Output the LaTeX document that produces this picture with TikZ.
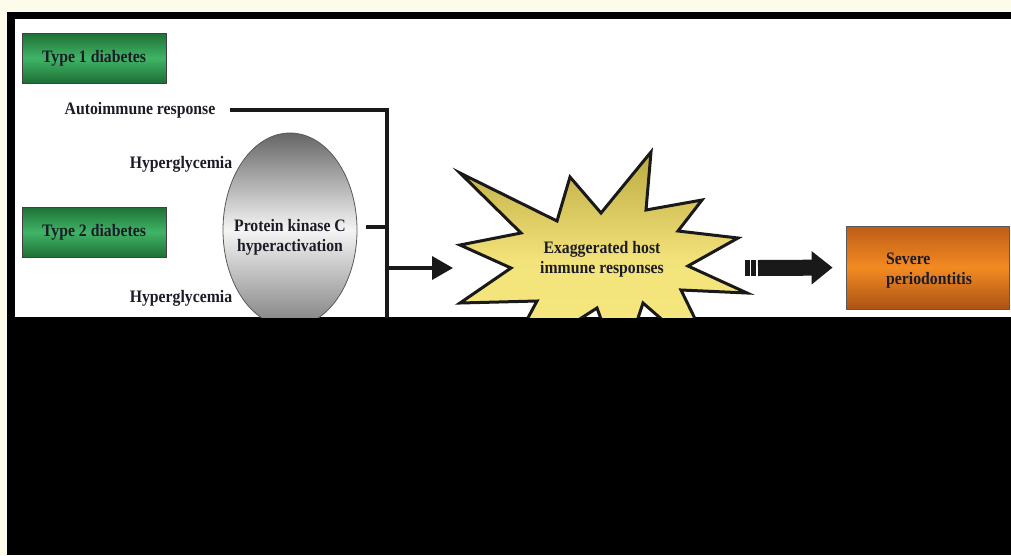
\documentclass[tikz,border=0pt]{standalone}
\usepackage{fontspec}
\setmainfont{Liberation Serif}[FakeStretch=0.9]
\usetikzlibrary{arrows.meta,shapes.geometric}
\definecolor{cream}{HTML}{FDFBEA}
\definecolor{grnDark}{HTML}{1E7036}
\definecolor{grnLight}{HTML}{40B466}
\definecolor{orgDark}{HTML}{BE5C18}
\definecolor{orgLight}{HTML}{F38A22}
\definecolor{starDark}{HTML}{BCA942}
\definecolor{starLight}{HTML}{F6E77E}
\definecolor{ink}{HTML}{1C1C28}
\tikzset{
	lbl/.style={font=\fontsize{17.5}{20}\selectfont\bfseries, text=ink, inner sep=0pt, align=center},
	greenbox/.style={lbl, draw=black!75, line width=0.8pt, top color=grnDark, bottom color=grnDark, middle color=grnLight, minimum width=144pt, minimum height=50pt},
	orangebox/.style={draw=black!65, line width=0.8pt, top color=orgDark, bottom color=orgDark!90!black, middle color=orgLight, minimum width=163pt, minimum height=83pt},
	pkcegg/.style={ellipse, draw=black!65, line width=0.8pt, top color=black!60, bottom color=black!50, middle color=black!4, minimum width=134pt, minimum height=194pt},
	bus/.style={line width=3.5pt, color=black!90},
	burst/.style={line width=3pt, line join=miter, draw=black!90, top color=starDark, bottom color=starLight, middle color=starLight!94!starDark}
}

\begin{document}
\begin{tikzpicture}[x=1pt, y=-1pt]
	%%%%% START %%%%%
	
	\fill[cream] (0, 0) rectangle (1011, 555);
	\fill[black] (7, 12) rectangle (1011, 555);
	\fill[white] (15, 19) rectangle (1011, 317);
	
	\begin{scope}
		\clip (15, 19) rectangle (1011, 317);
		
		\node[greenbox] (type1) at (94, 58) {Type 1 diabetes};
		\node[greenbox] (type2) at (94, 232) {Type 2 diabetes};
		
		\node[lbl] (auto) at (140, 110) {Autoimmune response};
		\node[lbl] (hyper1) at (181, 164) {Hyperglycemia};
		\node[lbl] (hyper2) at (181, 298) {Hyperglycemia};
		
		\node[pkcegg] (pkc) at (290, 230) {};
		\node[lbl] (pkctext) at (290, 237) {Protein kinase C\\hyperactivation};
		
		\coordinate (corner) at (387, 110);
		\coordinate (busend) at (387, 330);
		\coordinate (tick) at (387, 227);
		\coordinate (tickstart) at ([xshift=9pt]pkc.east);
		\coordinate (junction) at (387, 268);
		\coordinate (hostin) at (453, 268);
		
		\draw[bus] ([xshift=14pt]auto.east |- corner) -- (corner) -- (busend);
		\draw[bus] (tickstart |- tick) -- (tick);
		\draw[bus, -{Triangle[length=21pt, width=23pt]}] (junction) -- (hostin);
		
		% burst
		\draw[burst] (460, 173) -- (557, 221) -- (570, 177) -- (601, 213) -- (651, 152) -- (646, 210)
			-- (702, 200) -- (678, 231) -- (738, 238) -- (688, 266) -- (747, 293) -- (681, 290)
			-- (720, 370) -- (643, 303) -- (620, 372) -- (597, 308) -- (500, 370) -- (537, 301)
			-- (460, 303) -- (511, 268) -- (460, 245) -- (521, 233) -- cycle;
		\node[lbl] (host) at (602, 259) {Exaggerated host\\immune responses};
		
		\node[orangebox] (perio) at (927.5, 267.5) {};
		\node[lbl, align=left] (periotext) at (929, 271) {Severe\\periodontitis};
		
		\coordinate (blockstart) at (758, 268);
		\fill[black!90] (745, 260) rectangle (749.5, 276);
		\fill[black!90] (751, 260) rectangle (756, 276);
		\draw[line width=16pt, color=black!90, -{Triangle[length=21pt, width=32pt]}, shorten >=13pt] (blockstart) -- (perio.west);
	\end{scope}
	
	%%%%% END %%%%%
\end{tikzpicture}
\end{document}
